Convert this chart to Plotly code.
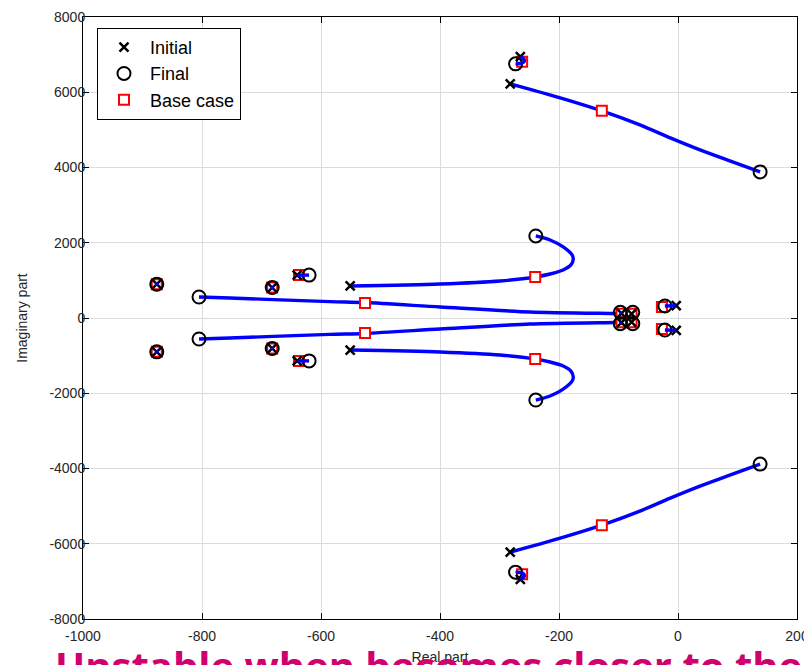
import plotly.graph_objects as go

# ---------------- data ----------------
initial_re = [-282, -282, -265, -265, -551, -551, -78, -78, -95, -95, -3, -3,
              -876, -876, -682, -682, -640, -640]
initial_im = [6223, -6223, 6950, -6950, 851, -851, 110, -110, 120, -120, 330, -330,
              900, -900, 810, -810, 1140, -1140]

final_re = [138, 138, -273, -273, -239, -239, -805, -805, -97, -97, -76, -76,
            -22, -22, -876, -876, -682, -682, -620, -620]
final_im = [3883, -3883, 6755, -6755, 2181, -2181, 558, -558, 150, -150, 150, -150,
            320, -320, 900, -900, 810, -810, 1140, -1140]

base_re = [-128, -128, -262, -262, -240, -240, -526, -526, -95, -95, -78, -78,
           -27, -27, -876, -876, -682, -682, -637, -637]
base_im = [5505, -5505, 6810, -6810, 1090, -1090, 400, -400, 110, -110, 110, -110,
           290, -290, 900, -900, 810, -810, 1140, -1140]

# long trajectories
traj_top_re = [-282, -198, -128, -64, -13, 37, 87, 138]
traj_top_im = [6223, 5851, 5505, 5133, 4787, 4468, 4176, 3883]
traj_bot_re = [-282, -198, -128, -64, -13, 37, 87, 138]
traj_bot_im = [-6223, -5851, -5505, -5133, -4787, -4468, -4176, -3883]

traj_mid_up_re = [-551, -400, -299, -240, -215, -193, -180, -176, -178, -193, -215, -239]
traj_mid_up_im = [851, 904, 984, 1090, 1170, 1277, 1410, 1569, 1676, 1888, 2074, 2181]
traj_mid_dn_re = [-551, -400, -299, -240, -215, -193, -180, -176, -178, -193, -215, -239]
traj_mid_dn_im = [-851, -904, -984, -1090, -1170, -1277, -1410, -1569, -1676, -1888, -2074, -2181]

traj_long_up_re = [-78, -103, -249, -400, -526, -585, -753, -805]
traj_long_up_im = [110, 118, 160, 293, 410, 434, 532, 558]
traj_long_dn_re = [-78, -103, -249, -400, -526, -585, -753, -805]
traj_long_dn_im = [-110, -118, -160, -293, -410, -434, -532, -558]

# short trajectories (drawn on top)
short_segments = [
    ([-265, -258, -260, -268, -273], [6950, 6860, 6790, 6760, 6755]),
    ([-265, -258, -260, -268, -273], [-6950, -6860, -6790, -6760, -6755]),
    ([-3, -22], [330, 320]),
    ([-3, -22], [-330, -320]),
    ([-95, -97], [120, 150]),
    ([-95, -97], [-120, -150]),
    ([-640, -620], [1140, 1140]),
    ([-640, -620], [-1140, -1140]),
    ([-879, -873], [900, 900]),
    ([-879, -873], [-900, -900]),
    ([-685, -679], [810, 810]),
    ([-685, -679], [-810, -810]),
]

x_ticks = [-1000, -800, -600, -400, -200, 0, 200]
y_ticks = [-8000, -6000, -4000, -2000, 0, 2000, 4000, 6000, 8000]

BLUE = "#0000FF"
LW = 3.4
FONT = "Liberation Sans, Arial"

fig = go.Figure()

long_traj = [
    (traj_top_re, traj_top_im), (traj_bot_re, traj_bot_im),
    (traj_mid_up_re, traj_mid_up_im), (traj_mid_dn_re, traj_mid_dn_im),
    (traj_long_up_re, traj_long_up_im), (traj_long_dn_re, traj_long_dn_im),
]
for xs, ys in long_traj:
    fig.add_trace(go.Scatter(x=xs, y=ys, mode="lines", showlegend=False,
                             line=dict(color=BLUE, width=LW, shape="spline", smoothing=0.8),
                             hoverinfo="skip"))

fig.add_trace(go.Scatter(x=base_re, y=base_im, mode="markers", name="Base case",
                         legendrank=3,
                         marker=dict(symbol="square", size=10, color="white",
                                     line=dict(color="red", width=2))))
fig.add_trace(go.Scatter(x=initial_re, y=initial_im, mode="markers", name="Initial",
                         legendrank=1,
                         marker=dict(symbol="x-thin", size=9, color="black",
                                     line=dict(color="black", width=2.5))))
fig.add_trace(go.Scatter(x=final_re, y=final_im, mode="markers", name="Final",
                         legendrank=2,
                         marker=dict(symbol="circle-open", size=13, color="black",
                                     line=dict(color="black", width=2))))

for xs, ys in short_segments:
    fig.add_trace(go.Scatter(x=xs, y=ys, mode="lines", showlegend=False,
                             line=dict(color=BLUE, width=LW, shape="spline"),
                             hoverinfo="skip"))

axis_common = dict(showline=True, linecolor="black", linewidth=1, mirror="ticks",
                   ticks="inside", ticklen=6, tickcolor="black", automargin=False,
                   showgrid=True, gridcolor="#dcdcdc", gridwidth=1, zeroline=False,
                   tickfont=dict(family=FONT, size=14, color="#262626"))

# the page body adds an 8px offset, so the figure is 8px smaller on each side
fig.update_layout(
    width=804, height=657,
    margin=dict(l=75, r=15, t=9, b=46),
    paper_bgcolor="white", plot_bgcolor="white",
    xaxis=dict(range=[-1000, 200], tickvals=x_ticks,
               ticktext=[str(v) for v in x_ticks], ticklabelstandoff=4,
               title=dict(text="Real part", standoff=24,
                          font=dict(family=FONT, size=14, color="#262626")),
               **axis_common),
    yaxis=dict(range=[-8000, 8000], tickvals=y_ticks,
               ticktext=[str(v) for v in y_ticks], ticklabelstandoff=-6,
               title=dict(text="Imaginary part", standoff=18,
                          font=dict(family=FONT, size=14, color="#262626")),
               **axis_common),
    legend=dict(x=0.0196, y=0.982, xanchor="left", yanchor="top",
                bgcolor="white", bordercolor="black", borderwidth=1,
                font=dict(family=FONT, size=18, color="black"),
                tracegroupgap=0, itemwidth=42),
    showlegend=True,
)

fig.add_annotation(text="<b>Unstable when becomes closer to the</b>",
                   xref="paper", yref="paper", x=0.484, y=-0.029,
                   xanchor="center", yanchor="top", showarrow=False,
                   font=dict(family="Open Sans, Noto Sans", size=40, color="#D0006E"))

fig.write_html("out.html")
